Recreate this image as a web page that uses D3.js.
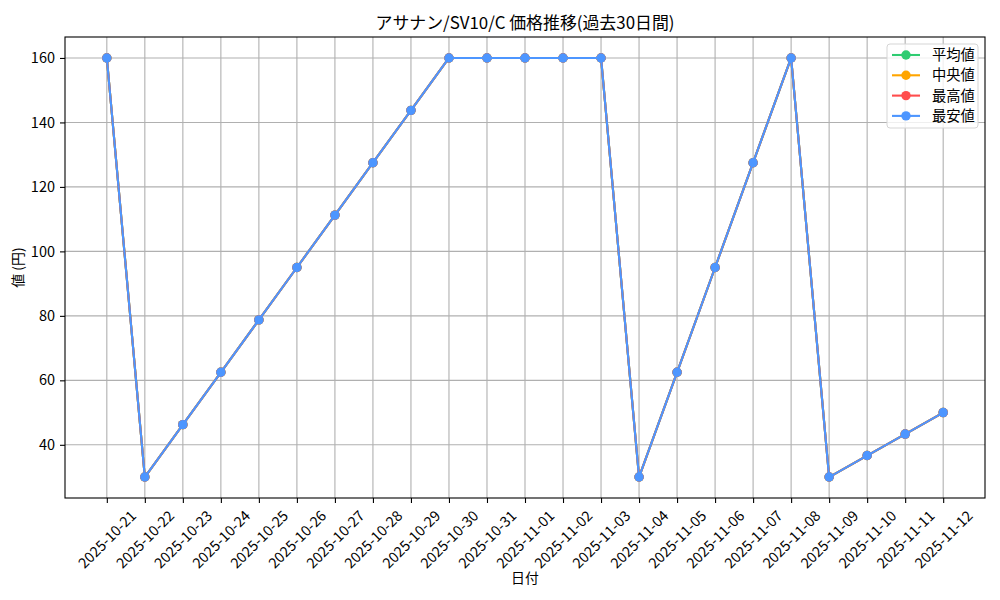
<!DOCTYPE html>
<html>
<head>
<meta charset="utf-8">
<script src="https://cdn.jsdelivr.net/npm/d3@7"></script>
<style>
  body { margin: 0; background: #fff; }
  svg text { font-family: "Liberation Sans Narrow", "Noto Sans CJK JP", sans-serif; fill: #000; }
</style>
</head>
<body>
<svg id="chart" width="1000" height="600"></svg>
<script>
const TITLE = 'アサナン/SV10/C 価格推移(過去30日間)';
const dates = [
  '2025-10-21', '2025-10-22', '2025-10-23', '2025-10-24', '2025-10-25', '2025-10-26',
  '2025-10-27', '2025-10-28', '2025-10-29', '2025-10-30', '2025-10-31', '2025-11-01',
  '2025-11-02', '2025-11-03', '2025-11-04', '2025-11-05', '2025-11-06', '2025-11-07',
  '2025-11-08', '2025-11-09', '2025-11-10', '2025-11-11', '2025-11-12'
];
const avgPrice = [160, 30, 46.25, 62.5, 78.75, 95, 111.25, 127.5, 143.75, 160, 160, 160, 160, 160, 30, 62.5, 95, 127.5, 160, 30, 36.67, 43.33, 50];
const medianPrice = [160, 30, 46.25, 62.5, 78.75, 95, 111.25, 127.5, 143.75, 160, 160, 160, 160, 160, 30, 62.5, 95, 127.5, 160, 30, 36.67, 43.33, 50];
const maxPrice = [160, 30, 46.25, 62.5, 78.75, 95, 111.25, 127.5, 143.75, 160, 160, 160, 160, 160, 30, 62.5, 95, 127.5, 160, 30, 36.67, 43.33, 50];
const minPrice = [160, 30, 46.25, 62.5, 78.75, 95, 111.25, 127.5, 143.75, 160, 160, 160, 160, 160, 30, 62.5, 95, 127.5, 160, 30, 36.67, 43.33, 50];
const yTicks = [40, 60, 80, 100, 120, 140, 160];

const series = [
  {name: '平均値', color: '#2ecc71', values: avgPrice},
  {name: '中央値', color: '#ffa500', values: medianPrice},
  {name: '最高値', color: '#ff4d4d', values: maxPrice},
  {name: '最安値', color: '#4d96ff', values: minPrice}
];

const MARGIN = {top: 37, right: 15, bottom: 102, left: 65};
const WIDTH = 1000, HEIGHT = 600;
const width = WIDTH - MARGIN.left - MARGIN.right;
const height = HEIGHT - MARGIN.top - MARGIN.bottom;
const TICK_FONT = 14.5;

const parse = d3.timeParse('%Y-%m-%d');
const days = dates.map(parse);
const span = days[days.length - 1] - days[0];

const x = d3.scaleTime()
  .domain([new Date(+days[0] - span * 0.05), new Date(+days[days.length - 1] + span * 0.05)])
  .range([0, width]);

const allVals = series.flatMap(s => s.values);
const yMin = d3.min(allVals), yMax = d3.max(allVals);
const pad = (yMax - yMin) * 0.05;
const y = d3.scaleLinear()
  .domain([yMin - pad, yMax + pad])
  .range([height, 0]);

const svg = d3.select('#chart');
const chart = svg.append('g')
  .attr('transform', `translate(${MARGIN.left},${MARGIN.top})`);

// grid
chart.append('g')
  .selectAll('line')
  .data(days)
  .enter().append('line')
  .attr('x1', d => x(d)).attr('x2', d => x(d))
  .attr('y1', 0).attr('y2', height)
  .attr('stroke', '#b0b0b0').attr('stroke-width', 1.1);

chart.append('g')
  .selectAll('line')
  .data(yTicks)
  .enter().append('line')
  .attr('x1', 0).attr('x2', width)
  .attr('y1', d => y(d)).attr('y2', d => y(d))
  .attr('stroke', '#b0b0b0').attr('stroke-width', 1.1);

// lines + markers, drawn in legend order so the last one sits on top
const line = d3.line()
  .x((d, i) => x(days[i]))
  .y(d => y(d));

series.forEach(s => {
  const g = chart.append('g');
  g.append('path')
    .datum(s.values)
    .attr('fill', 'none')
    .attr('stroke', s.color)
    .attr('stroke-width', 2.1)
    .attr('stroke-linejoin', 'round')
    .attr('d', line);
  g.selectAll('circle')
    .data(s.values)
    .enter().append('circle')
    .attr('cx', (d, i) => x(days[i]))
    .attr('cy', d => y(d))
    .attr('r', 4.7)
    .attr('fill', s.color);
});

// axes
const xAxis = d3.axisBottom(x)
  .tickValues(days)
  .tickFormat(d3.timeFormat('%Y-%m-%d'))
  .tickSize(5);

const xg = chart.append('g')
  .attr('transform', `translate(0,${height})`)
  .call(xAxis);
xg.select('.domain').remove();
xg.selectAll('.tick line').attr('stroke', '#000').attr('stroke-width', 1.1);
// rotated labels centred under the tick (bounding box centre), like matplotlib rotation=45
xg.selectAll('.tick text')
  .attr('font-size', TICK_FONT)
  .attr('text-anchor', 'middle')
  .attr('x', 0).attr('y', 0)
  .attr('dy', '0.35em')
  .each(function() {
    const L = this.getComputedTextLength();
    const off = 10 + (L + TICK_FONT) / (2 * Math.SQRT2);
    d3.select(this).attr('transform', `translate(0,${off}) rotate(-45)`);
  });

const yg = chart.append('g')
  .call(d3.axisLeft(y).tickValues(yTicks).tickSize(5).tickPadding(5));
yg.select('.domain').remove();
yg.selectAll('.tick line').attr('stroke', '#000').attr('stroke-width', 1.1);
yg.selectAll('.tick text').attr('font-size', TICK_FONT);

// frame
chart.append('rect')
  .attr('width', width).attr('height', height)
  .attr('fill', 'none').attr('stroke', '#000').attr('stroke-width', 1.1);

// title and labels
svg.append('text')
  .attr('x', MARGIN.left + width / 2).attr('y', 29)
  .attr('text-anchor', 'middle').attr('font-size', 16.9)
  .text(TITLE);

svg.append('text')
  .attr('x', MARGIN.left + width / 2).attr('y', 583)
  .attr('text-anchor', 'middle').attr('font-size', 13.9)
  .text('日付');

svg.append('text')
  .attr('transform', `translate(23,${MARGIN.top + height / 2}) rotate(-90)`)
  .attr('text-anchor', 'middle').attr('font-size', 13.9)
  .text('値 (円)');

// legend
const legend = svg.append('g').attr('transform', 'translate(887,44)');
legend.append('rect')
  .attr('width', 91).attr('height', 84).attr('rx', 3)
  .attr('fill', 'rgba(255,255,255,0.8)')
  .attr('stroke', '#d5d5d5').attr('stroke-width', 1);

const item = legend.selectAll('g.item')
  .data(series)
  .enter().append('g')
  .attr('transform', (d, i) => `translate(0,${11 + i * 20.3})`);
item.append('line')
  .attr('x1', 5).attr('x2', 33)
  .attr('stroke', d => d.color).attr('stroke-width', 2.1);
item.append('circle')
  .attr('cx', 19).attr('r', 4.7)
  .attr('fill', d => d.color);
item.append('text')
  .attr('x', 45).attr('dy', '0.36em')
  .attr('font-size', 14.3)
  .text(d => d.name);
</script>
</body>
</html>
